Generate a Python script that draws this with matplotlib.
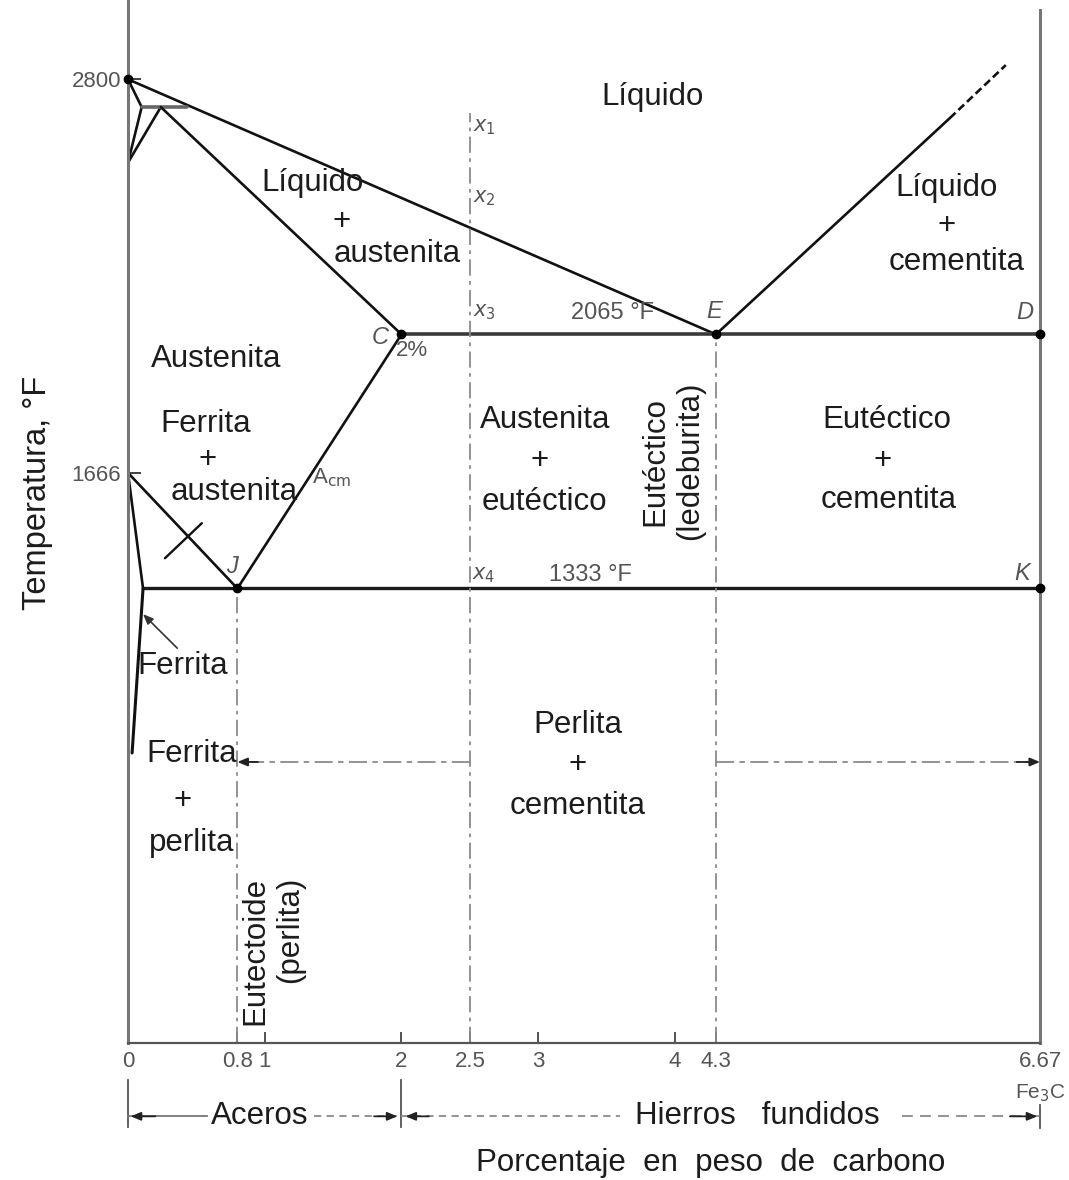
import matplotlib
matplotlib.use("Agg")
import matplotlib.pyplot as plt

plt.rcParams['font.family'] = ['Liberation Sans', 'DejaVu Sans']
plt.rcParams['mathtext.fontset'] = 'dejavusans'

# ---- Phase-diagram data: composition in wt % C, temperature in °F ----
liquidus_x, liquidus_T = [0.0, 4.3], [2800, 2065]
delta_solidus_x, delta_solidus_T = [0.0, 0.10], [2800, 2720]
delta_lower_x, delta_lower_T = [0.10, 0.0], [2720, 2560]
gamma_upper_x, gamma_upper_T = [0.24, 0.0], [2720, 2560]
peritectic_x, peritectic_T = [0.10, 0.43], [2720, 2720]
austenite_solidus_x, austenite_solidus_T = [0.24, 2.0], [2720, 2065]
eutectic_x, eutectic_T = [2.0, 6.67], [2065, 2065]
cementite_liq_x, cementite_liq_T = [4.3, 6.01], [2065, 2688]
cementite_liq_ext_x, cementite_liq_ext_T = [6.01, 6.42], [2688, 2841]
acm_x, acm_T = [2.0, 0.8], [2065, 1333]
a3_x, a3_T = [0.0, 0.8], [1666, 1333]
alpha_gamma_x, alpha_gamma_T = [0.0, 0.11], [1666, 1333]
eutectoid_x, eutectoid_T = [0.11, 6.67], [1333, 1333]
ferrite_solvus_x, ferrite_solvus_T = [0.11, 0.03], [1333, 859]

# invariant points marked with dots
point_x = [0.0, 2.0, 4.3, 6.67, 0.8, 6.67]
point_T = [2800, 2065, 2065, 2065, 1333, 1333]

# vertical composition guides (x, upper end in °F)
guide_x = [0.8, 2.5, 4.3]
guide_top = [1333, 2703, 2065]

# axis ticks
xtick_vals = [0, 0.8, 1, 2, 2.5, 3, 4, 4.3, 6.67]
xtick_labels = ['0', '0.8', '1', '2', '2.5', '3', '4', '4.3', '6.67']
ytick_vals = [1666, 2800]
ytick_labels = ['1666', '2800']

# composition ranges for steels and cast irons
steel_range = (0.0, 2.0)
cast_iron_range = (2.0, 6.67)

W, H = 1069, 1180
TXT = '#1c1c1c'
GRAY = '#555555'
LINE = '#111111'
FS = 22.5

fig = plt.figure(figsize=(W / 100, H / 100), dpi=100)
ax = fig.add_axes([128 / W, 1 - 1043 / H, (1040 - 128) / W, 1043 / H])
ax.set_xlim(0, 6.67)
ax.set_ylim(23.3, 3028.5)

ax.spines['top'].set_visible(False)
ax.spines['left'].set_color('#777777')
ax.spines['left'].set_linewidth(2.2)
ax.spines['right'].set_color('#777777')
ax.spines['right'].set_linewidth(2.2)
ax.spines['right'].set_bounds(23.3, 3000)
ax.spines['bottom'].set_color('#555555')
ax.spines['bottom'].set_linewidth(1.6)

ax.set_xticks(xtick_vals)
ax.set_xticklabels(xtick_labels)
ax.set_yticks(ytick_vals)
ax.set_yticklabels(ytick_labels)
ax.tick_params(axis='x', direction='in', length=8, width=1.3, color='#444444',
               labelsize=16, labelcolor=GRAY, pad=6)
ax.tick_params(axis='y', direction='in', length=9, width=1.3, color='#333333',
               labelsize=16, labelcolor=GRAY, pad=5)

# ---- boundaries ----
def boundary(x, T, lw=1.9, color=LINE, **kw):
    ax.plot(x, T, color=color, lw=lw, solid_capstyle='round', **kw)

boundary(liquidus_x, liquidus_T)
boundary(delta_solidus_x, delta_solidus_T)
boundary(delta_lower_x, delta_lower_T)
boundary(gamma_upper_x, gamma_upper_T)
boundary(peritectic_x, peritectic_T, lw=2.6, color='#666666')
boundary(austenite_solidus_x, austenite_solidus_T)
boundary(eutectic_x, eutectic_T, lw=2.6, color='#3a3a3a')
boundary(cementite_liq_x, cementite_liq_T)
boundary(cementite_liq_ext_x, cementite_liq_ext_T, linestyle=(0, (3, 1.5)))
boundary(acm_x, acm_T)
boundary(a3_x, a3_T)
boundary(alpha_gamma_x, alpha_gamma_T)
boundary(eutectoid_x, eutectoid_T, lw=2.4, color='#1a1a1a')
boundary(ferrite_solvus_x, ferrite_solvus_T, lw=2.2)

# region marker across A3
boundary([0.27, 0.54], [1420, 1521], lw=1.7)

ax.plot(point_x, point_T, 'o', color='black', ms=6, clip_on=False, zorder=5)

# dash-dot composition guides
for gx, gt in zip(guide_x, guide_top):
    ax.plot([gx, gx], [23.3, gt], color='#8a8a8a', lw=1.3,
            linestyle=(0, (9, 3, 2, 3)))

# pearlite + cementite range arrows
dash = dict(color='#8a8a8a', lw=1.3, linestyle=(0, (10, 3, 3, 3)))
ax.plot([0.86, 2.5], [833, 833], **dash)
ax.plot([4.3, 6.6], [833, 833], **dash)
arrow = dict(arrowstyle='-|>,head_length=0.6,head_width=0.25', color='#222222', lw=1.3,
             shrinkA=0, shrinkB=0)
ax.annotate('', xy=(0.8, 833), xytext=(0.95, 833), arrowprops=arrow)
ax.annotate('', xy=(6.67, 833), xytext=(6.5, 833), arrowprops=arrow)

# "Ferrita" pointer
ax.annotate('', xy=(0.11, 1259), xytext=(0.36, 1161),
            arrowprops=dict(arrowstyle='-|>,head_length=0.6,head_width=0.25',
                            color='#333333', lw=1.2, shrinkA=0, shrinkB=0))

# ---- steels / cast irons bracket below the axis ----
yb = -188
for bx, top, bot in [(steel_range[0], -82, -219), (steel_range[1], -82, -219),
                     (cast_iron_range[1], -155, -221)]:
    ax.plot([bx, bx], [top, bot], color='#555555', lw=1.3, clip_on=False)
ax.plot([steel_range[0], 0.58], [yb, yb], color='#777777', lw=1.3, clip_on=False)
ax.plot([1.36, steel_range[1]], [yb, yb], color='#8a8a8a', lw=1.3,
        linestyle=(0, (4, 3)), clip_on=False)
ax.plot([cast_iron_range[0], 3.6], [yb, yb], color='#8a8a8a', lw=1.3,
        linestyle=(0, (4, 3)), clip_on=False)
ax.plot([5.66, cast_iron_range[1]], [yb, yb], color='#8a8a8a', lw=1.3,
        linestyle=(0, (6, 4)), clip_on=False)
ax.annotate('', xy=(steel_range[0] + 0.02, yb), xytext=(0.2, yb), arrowprops=arrow,
            annotation_clip=False)
ax.annotate('', xy=(steel_range[1] - 0.03, yb), xytext=(1.8, yb), arrowprops=arrow,
            annotation_clip=False)
ax.annotate('', xy=(cast_iron_range[0] + 0.03, yb), xytext=(2.2, yb), arrowprops=arrow,
            annotation_clip=False)
ax.annotate('', xy=(cast_iron_range[1] - 0.02, yb), xytext=(6.45, yb), arrowprops=arrow,
            annotation_clip=False)

# ---- text ----
def label(x, T, s, size=FS, color=TXT, **kw):
    ax.text(x, T, s, ha=kw.pop('ha', 'center'), va=kw.pop('va', 'center'),
            fontsize=size, color=color, **kw)

label(3.84, 2749, 'Líquido')
label(1.35, 2501, 'Líquido')
label(1.56, 2389, '+')
label(1.97, 2297, 'austenita')
label(5.99, 2486, 'Líquido')
label(5.99, 2377, '+')
label(6.06, 2273, 'cementita')
label(0.644, 1994, 'Austenita')
label(0.57, 1807, 'Ferrita')
label(0.585, 1703, '+')
label(0.775, 1611, 'austenita')
label(3.05, 1818, 'Austenita')
label(3.013, 1700, '+')
label(3.043, 1582, 'eutéctico')
label(3.854, 1700, 'Eutéctico', rotation=90)
label(4.11, 1700, '(ledeburita)', rotation=90)
label(5.551, 1818, 'Eutéctico')
label(5.515, 1700, '+')
label(5.566, 1588, 'cementita')
label(0.402, 1109, 'Ferrita')
label(0.468, 855, 'Ferrita')
label(0.402, 720, '+')
label(0.468, 599, 'perlita')
label(3.291, 939, 'Perlita')
label(3.291, 823, '+')
label(3.291, 706, 'cementita')
label(0.929, 290, 'Eutectoide', rotation=90)
label(1.185, 349, '(perlita)', rotation=90)

label(3.54, 2127, '2065 °F', size=17, color=GRAY)
label(3.379, 1372, '1333 °F', size=17, color=GRAY)
label(2.077, 2020, '2%', size=16, color=GRAY)
label(1.49, 1651, r'A$_{\rm cm}$', size=16, color=GRAY)

for xx, TT, s in [(4.286, 2130, 'E'), (6.561, 2127, 'D'), (1.843, 2057, 'C'),
                  (0.761, 1397, 'J'), (6.539, 1377, 'K')]:
    label(xx, TT, s, size=17, color=GRAY, style='italic')

for TT, s in [(2662, r'$x_1$'), (2458, r'$x_2$'), (2130, r'$x_3$'), (1372, r'$x_4$')]:
    label(2.604, TT, s, size=15, color=GRAY)

label(6.67, -121, r'Fe$_3$C', size=15, color=GRAY)
label(-0.66, 1608, 'Temperatura, °F', size=23.5, rotation=90)
label(0.96, -188, 'Aceros', size=FS)
label(4.6, -188, 'Hierros   fundidos', size=FS)
label(4.26, -323, 'Porcentaje  en  peso  de  carbono', size=FS)

fig.savefig('out.png', dpi=100, facecolor='white')
